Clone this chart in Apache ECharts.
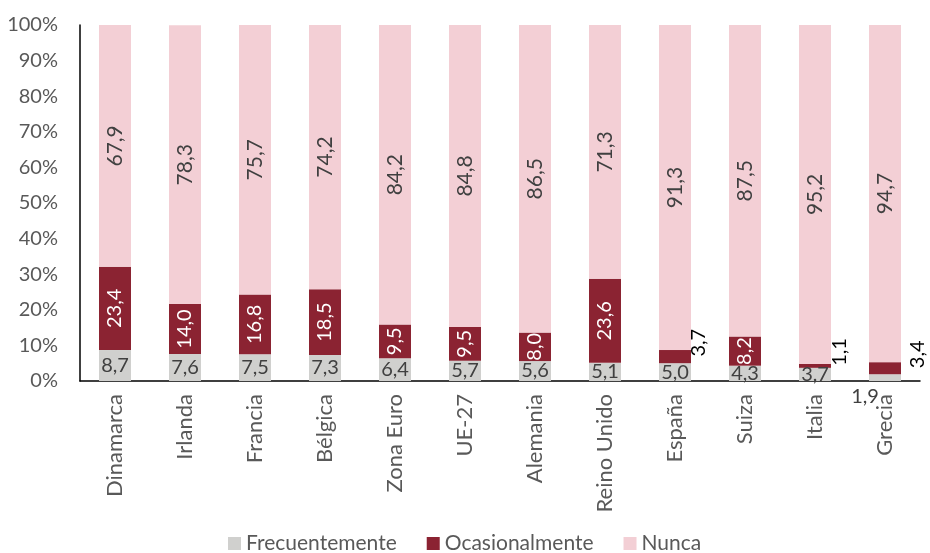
<!DOCTYPE html>
<html>
<head>
<meta charset="utf-8">
<script src="https://cdn.jsdelivr.net/npm/echarts@6/dist/echarts.min.js"></script>
<style>html,body{margin:0;padding:0;background:#fff}#c{width:930px;height:553px}</style>
</head>
<body>
<div id="c"></div>
<script>
const categories = ['Dinamarca','Irlanda','Francia','Bélgica','Zona Euro','UE-27','Alemania','Reino Unido','España','Suiza','Italia','Grecia'];
const frecuentemente = [8.7, 7.6, 7.5, 7.3, 6.4, 5.7, 5.6, 5.1, 5.0, 4.3, 3.7, 1.9];
const ocasionalmente = [23.4, 14.0, 16.8, 18.5, 9.5, 9.5, 8.0, 23.6, 3.7, 8.2, 1.1, 3.4];
const nunca = [67.9, 78.3, 75.7, 74.2, 84.2, 84.8, 86.5, 71.3, 91.3, 87.5, 95.2, 94.7];
const yTicks = [0,10,20,30,40,50,60,70,80,90,100];

const FONT = 'Lato';
const fmt = p => (typeof p.value === 'number' ? p.value : p.data.value).toFixed(1).replace('.', ',');

// label overrides for small segments
const smallOcc = {'España': 8, 'Italia': 9, 'Grecia': 17};

const frecData = frecuentemente.map((v, i) => {
  if (categories[i] === 'Grecia') {
    return {value: v, label: {position: 'inside', offset: [-20, 19]}};
  }
  return v;
});
const occData = ocasionalmente.map((v, i) => {
  const d = smallOcc[categories[i]];
  if (d !== undefined) {
    return {value: v, label: {position: 'right', distance: d, color: '#000', rotate: 90, align: 'left', verticalAlign: 'middle'}};
  }
  return v;
});

const chart = echarts.init(document.getElementById('c'), null, {renderer: 'canvas'});
chart.setOption({
  animation: false,
  textStyle: {fontFamily: FONT},
  grid: {left: 80, right: 10, top: 25, bottom: 172},
  legend: {
    top: 528, left: 223,
    icon: 'rect', itemWidth: 13, itemHeight: 13, itemGap: 30,
    textStyle: {fontFamily: FONT, fontSize: 21, color: '#595959'},
    data: ['Frecuentemente', 'Ocasionalmente', 'Nunca']
  },
  xAxis: {
    type: 'category', data: categories,
    axisLine: {lineStyle: {color: '#000', width: 1.5}},
    axisTick: {show: false},
    axisLabel: {rotate: 90, fontSize: 22, color: '#595959', fontFamily: FONT, margin: 13, interval: 0}
  },
  yAxis: {
    type: 'value', min: yTicks[0], max: yTicks[yTicks.length - 1], interval: 10,
    axisLine: {show: true, lineStyle: {color: '#000', width: 1.5}},
    axisTick: {show: false},
    splitLine: {show: false},
    axisLabel: {formatter: '{value}%', fontSize: 20, color: '#595959', fontFamily: FONT, margin: 22}
  },
  series: [
    {
      name: 'Frecuentemente', type: 'bar', stack: 't', barWidth: 32, data: frecData,
      itemStyle: {color: '#D0D0CE'},
      label: {show: true, position: 'inside', formatter: fmt, color: '#404040', fontSize: 20, fontFamily: FONT}
    },
    {
      name: 'Ocasionalmente', type: 'bar', stack: 't', barWidth: 32, data: occData,
      itemStyle: {color: '#8B2332'},
      label: {show: true, position: 'inside', rotate: 90, formatter: fmt, color: '#fff', fontSize: 20, fontFamily: FONT}
    },
    {
      name: 'Nunca', type: 'bar', stack: 't', barWidth: 32, data: nunca,
      itemStyle: {color: '#F3CFD5'},
      label: {show: true, position: 'inside', rotate: 90, formatter: fmt, color: '#404040', fontSize: 21, fontFamily: FONT}
    }
  ]
});
</script>
</body>
</html>
